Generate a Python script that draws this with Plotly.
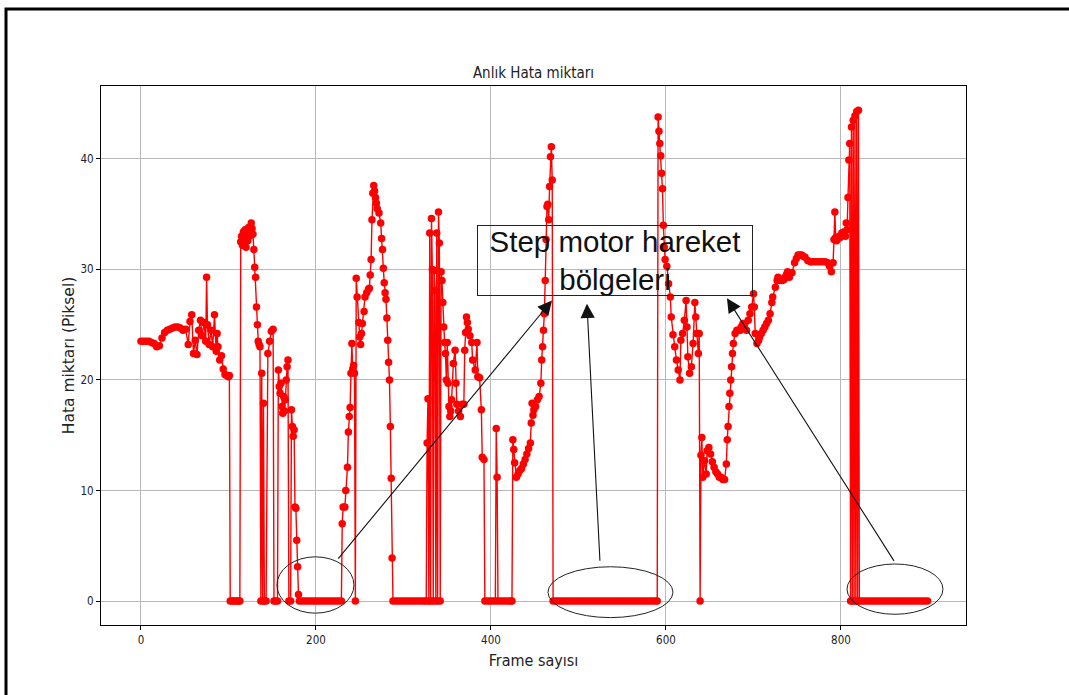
import plotly.graph_objects as go

# ---- data: (frame, error in pixels) ----
seg_a = [(0, 23.5), (3, 23.5), (6, 23.5), (9, 23.5), (12, 23.4), (15, 23.3), (18, 23.0), (21, 23.1),
         (24, 23.8), (27, 24.3), (30, 24.5), (33, 24.6), (36, 24.7), (39, 24.8), (42, 24.8), (45, 24.7),
         (48, 24.5), (51, 24.6), (54, 23.2), (56, 25.3), (58, 25.9), (60, 22.4), (62, 23.6), (64, 22.3),
         (66, 24.5), (68, 25.4), (70, 24.0), (72, 25.2), (74, 23.5), (75, 29.3), (76, 25.0), (78, 23.2),
         (80, 24.5), (82, 23.0), (84, 25.9), (86, 22.6), (87, 24.2), (88, 23.0), (90, 21.8), (92, 22.2),
         (94, 21.0), (96, 20.5), (98, 20.4), (100, 20.3), (101, 20.4)]
seg_b = [(102, 0), (104, 0), (106, 0), (108, 0), (110, 0), (112, 0), (113, 0)]
seg_c = [(114, 32.5), (115, 33.0), (116, 32.2), (117, 33.4), (118, 32.4), (119, 33.6), (120, 32.0),
         (121, 33.2), (122, 32.6), (123, 33.8), (124, 33.0), (125, 33.5), (126, 34.2), (127, 33.7),
         (128, 33.2), (129, 31.8), (130, 30.2), (131, 29.3), (132, 26.6), (133, 25.0), (134, 23.5),
         (135, 23.2), (136, 23.0), (137, 0), (138, 20.6), (139, 0), (140, 17.9), (141, 0), (143, 0),
         (145, 22.4), (147, 23.5), (149, 24.4), (151, 24.6), (152, 0), (154, 0), (156, 0), (157, 20.9),
         (158, 19.4), (159, 18.8), (160, 19.7), (161, 17.6), (162, 17.0), (163, 18.5), (164, 17.2),
         (165, 18.2), (166, 20.0), (167, 21.2), (168, 21.8), (169, 0), (171, 0), (172, 17.3), (173, 15.8),
         (174, 14.9), (175, 15.5), (176, 8.5), (177, 8.4), (178, 5.5), (179, 3.1), (180, 0.6)]
seg_d = [(181, 0), (184, 0), (187, 0), (190, 0), (193, 0), (196, 0), (199, 0), (202, 0), (205, 0),
         (208, 0), (211, 0), (214, 0), (217, 0), (220, 0), (223, 0), (226, 0), (229, 0)]
seg_e = [(230, 7.0), (231, 8.5), (233, 8.5), (234, 10.0), (236, 12.1), (237, 15.3), (238, 16.7),
         (239, 17.5), (240, 20.6), (241, 23.3), (242, 21.0), (243, 21.3), (244, 20.6), (245, 0),
         (246, 29.2), (247, 27.5), (249, 25.2), (250, 23.9), (251, 23.2), (252, 24.2), (253, 25.1),
         (255, 26.2), (256, 27.5), (258, 27.9), (260, 28.2), (261, 28.3), (262, 29.5), (263, 30.9),
         (264, 34.5), (265, 36.9), (266, 37.6), (267, 37.1), (268, 36.5), (269, 36.0), (270, 35.5),
         (272, 35.1), (274, 34.2), (275, 32.8), (276, 31.8), (277, 30.1), (278, 28.8), (279, 27.9),
         (280, 27.3), (281, 25.6), (282, 23.6), (283, 21.6), (284, 20.0), (285, 15.8), (286, 11.1),
         (287, 3.9), (288, 0)]
seg_f = [(291, 0), (294, 0), (297, 0), (300, 0), (303, 0), (306, 0), (309, 0), (312, 0), (315, 0),
         (318, 0), (321, 0), (324, 0), (326, 0)]
seg_g = [(327, 14.3), (328, 18.3), (329, 0), (330, 33.3), (331, 0), (332, 34.6), (333, 30.0), (334, 0),
         (335, 29.9), (336, 28.1), (337, 0), (338, 33.3), (339, 0), (340, 35.2), (341, 32.4), (342, 0),
         (343, 29.8), (344, 29.0), (345, 27.0), (346, 24.8), (347, 23.4), (348, 22.4), (349, 20.0),
         (350, 23.4), (351, 19.7), (352, 17.6), (353, 16.7), (354, 17.2), (355, 18.2), (357, 21.5),
         (359, 22.7), (360, 19.7), (361, 17.8), (363, 17.2), (365, 16.7), (367, 17.8), (369, 17.8),
         (370, 22.7), (371, 24.3), (372, 25.7), (373, 25.2), (374, 24.6), (376, 24.0), (378, 23.4),
         (379, 21.8), (382, 20.9), (384, 23.4), (385, 20.3), (387, 20.2), (389, 17.3), (390, 13.0),
         (392, 12.8), (393, 0)]
seg_h = [(396, 0), (399, 0), (402, 0), (405, 0), (406, 15.6), (407, 11.2), (408, 0), (411, 0),
         (414, 0), (417, 0), (420, 0), (423, 0), (424, 0)]
seg_i = [(425, 14.6), (426, 13.7), (427, 12.5), (429, 11.2), (431, 11.5), (433, 11.8), (435, 12.0),
         (437, 12.4), (439, 12.8), (441, 13.3), (443, 13.8), (445, 14.3), (446, 16.1), (447, 17.9),
         (448, 16.8), (449, 17.3), (451, 17.6), (453, 18.2), (455, 18.5), (457, 19.7), (458, 21.8),
         (459, 23.0), (460, 24.5), (461, 26.0), (462, 29.0), (463, 32.7), (464, 35.7), (465, 35.9),
         (466, 34.5), (467, 37.5), (468, 40.2), (469, 41.1), (470, 38.1)]
seg_j = [(471, 0), (474, 0), (477, 0), (480, 0), (483, 0), (486, 0), (489, 0), (492, 0), (495, 0),
         (498, 0), (501, 0), (504, 0), (507, 0), (510, 0), (513, 0), (516, 0), (519, 0), (522, 0),
         (525, 0), (528, 0), (531, 0), (534, 0), (537, 0), (540, 0), (543, 0), (546, 0), (549, 0),
         (552, 0), (555, 0), (558, 0), (561, 0), (564, 0), (567, 0), (570, 0), (573, 0), (576, 0),
         (579, 0), (582, 0), (585, 0), (588, 0), (590, 0)]
seg_k = [(591, 43.8), (592, 42.5), (593, 41.4), (594, 40.3), (595, 38.7), (596, 37.3), (597, 34.0),
         (598, 32.0), (599, 30.9), (601, 30.3), (603, 28.7), (605, 27.5), (606, 25.7), (608, 24.1),
         (610, 23.0), (612, 21.8), (614, 20.9), (616, 20.0), (617, 23.6), (619, 24.2), (621, 25.4),
         (623, 27.2), (624, 24.8), (625, 22.1), (627, 20.6), (629, 21.2), (631, 23.3), (633, 27.0),
         (634, 25.7), (635, 24.2), (637, 22.4), (638, 24.2), (639, 0), (640, 13.2), (641, 14.8),
         (642, 11.2), (644, 12.7), (646, 11.5), (647, 13.6), (649, 13.9), (651, 13.3), (653, 12.6),
         (655, 12.1), (657, 11.7), (659, 11.5), (661, 11.2), (663, 11.2), (665, 11.0), (667, 11.0),
         (669, 12.4), (670, 14.6), (671, 15.8), (672, 17.6), (673, 18.8), (674, 20.0), (675, 21.2),
         (676, 22.4), (677, 23.3), (679, 24.2), (681, 24.5), (683, 24.5), (685, 24.5), (686, 24.8),
         (688, 25.1), (690, 25.1), (692, 24.5), (694, 25.4), (696, 26.0), (698, 26.6), (700, 27.8),
         (701, 26.6), (702, 24.2), (704, 23.3), (706, 23.6), (707, 23.9), (709, 24.2), (711, 24.5),
         (713, 24.8), (715, 25.1), (717, 25.4), (719, 26.0), (721, 27.0), (722, 27.5), (725, 28.4),
         (727, 29.0), (728, 29.3), (730, 29.0), (733, 29.0), (735, 29.1), (736, 29.3), (738, 29.6),
         (739, 29.8), (741, 29.3), (744, 29.7), (747, 30.6), (749, 31.0), (751, 31.3), (753, 31.3),
         (755, 31.3), (757, 31.2), (759, 31.1), (762, 30.8), (765, 30.7), (767, 30.7), (770, 30.7),
         (773, 30.7), (776, 30.7), (779, 30.7), (782, 30.7), (785, 30.6), (787, 30.3), (789, 29.8),
         (791, 30.6), (792, 32.7), (793, 35.2), (794, 32.9), (795, 32.6), (796, 32.8), (798, 33.0),
         (799, 32.9), (801, 33.3), (803, 33.4), (805, 33.0), (806, 34.2), (807, 33.6), (808, 36.5),
         (809, 39.9), (810, 41.4), (811, 0), (812, 42.9), (813, 0), (814, 43.5), (815, 0), (816, 43.9),
         (817, 0), (818, 44.3), (819, 0), (820, 44.4)]
seg_l = [(821, 0), (824, 0), (827, 0), (830, 0), (833, 0), (836, 0), (839, 0), (842, 0), (845, 0),
         (848, 0), (851, 0), (854, 0), (857, 0), (860, 0), (863, 0), (866, 0), (869, 0), (872, 0),
         (875, 0), (878, 0), (881, 0), (884, 0), (887, 0), (890, 0), (893, 0), (896, 0), (899, 0)]

x_ticks = [0, 200, 400, 600, 800]
y_ticks = [0, 10, 20, 30, 40]
x_range = [-45.7, 942.9]
y_range = [-2.17, 46.6]

title_text = "Anlık Hata miktarı"
x_title = "Frame sayısı"
y_title = "Hata miktarı (Piksel)"
note_text = "Step motor hareket<br>bölgeleri"

# highlighted regions (ellipses) in data units: x0, x1, y0, y1
regions = [(155.4, 243.4, -1.1, 4.0), (465.1, 608.0, -1.5, 3.1), (806.9, 916.6, -1.2, 3.35)]
# arrows: tip (x, y), tail (x, y) in data units
arrows = [((469.7, 27.2), (224.0, 3.7)), ((509.7, 26.9), (524.6, 3.5)), ((669.7, 27.4), (861.7, 3.5))]
note_pos = (541.7, 30.8)

points = seg_a + seg_b + seg_c + seg_d + seg_e + seg_f + seg_g + seg_h + seg_i + seg_j + seg_k + seg_l
frames = [p[0] for p in points]
errors = [p[1] for p in points]

W, H = 1069, 695
ML, MR, MT, MB = 101, 103, 86, 70
PW, PH = W - ML - MR, H - MT - MB


def px_to_paper(px, py):
    return (px - ML) / PW, (H - MB - py) / PH


COND = "DejaVu Sans Condensed, DejaVu Sans, sans-serif"

fig = go.Figure()
fig.add_trace(go.Scatter(
    x=frames, y=errors, mode="lines+markers",
    line=dict(color="#ff0000", width=1.4),
    marker=dict(color="#ff0000", size=7.5, line=dict(width=0)),
    showlegend=False, hoverinfo="skip"))

shapes = []
for (x0, x1, y0, y1) in regions:
    shapes.append(dict(type="circle", xref="x", yref="y", x0=x0, x1=x1, y0=y0, y1=y1,
                       line=dict(color="#222222", width=1), fillcolor="rgba(0,0,0,0)", layer="above"))

# outer black frame of the screenshot (left and top edges only)
lx, ty = px_to_paper(6, 9)
_, by = px_to_paper(6, 695)
rx, _ = px_to_paper(1069, 9)
shapes.append(dict(type="path", xref="paper", yref="paper",
                   path=f"M {lx},{by} L {lx},{ty} L {rx},{ty}",
                   line=dict(color="black", width=3)))

annotations = []
for (tip, tail) in arrows:
    annotations.append(dict(x=tip[0], y=tip[1], ax=tail[0], ay=tail[1], xref="x", yref="y",
                            axref="x", ayref="y", text="", showarrow=True, arrowhead=2,
                            arrowsize=2.6, arrowwidth=1.1, arrowcolor="#111111", standoff=0))
annotations.append(dict(x=note_pos[0], y=note_pos[1], xref="x", yref="y", text=note_text,
                        showarrow=False, xanchor="center", yanchor="middle",
                        font=dict(family="Liberation Sans, Arial, sans-serif", size=29.5, color="#111111"),
                        bordercolor="#222222", borderwidth=1, borderpad=0, width=274, height=69,
                        align="center", bgcolor="rgba(0,0,0,0)"))

axis_common = dict(showline=True, linecolor="black", linewidth=1, mirror=True,
                   ticks="outside", ticklen=4, tickcolor="black", showgrid=True,
                   gridcolor="#b8b8b8", gridwidth=1, zeroline=False,
                   tickfont=dict(family=COND, size=11.5, color="#222222"))

fig.update_layout(
    width=W, height=H,
    margin=dict(l=ML, r=MR, t=MT, b=MB),
    paper_bgcolor="white", plot_bgcolor="white",
    title=dict(text=title_text, x=0.5, xref="paper", y=1 - 73 / H, yref="container",
               xanchor="center", yanchor="middle",
               font=dict(family=COND, size=15, color="#222222")),
    xaxis=dict(range=x_range, tickvals=x_ticks,
               title=dict(text=x_title, standoff=9,
                          font=dict(family=COND, size=16, color="#222222")),
               **axis_common),
    yaxis=dict(range=y_range, tickvals=y_ticks,
               title=dict(text=y_title, standoff=2,
                          font=dict(family="DejaVu Sans, sans-serif", size=15.5, color="#222222")),
               **axis_common),
    shapes=shapes,
    annotations=annotations,
)

fig.write_html("out.html")
